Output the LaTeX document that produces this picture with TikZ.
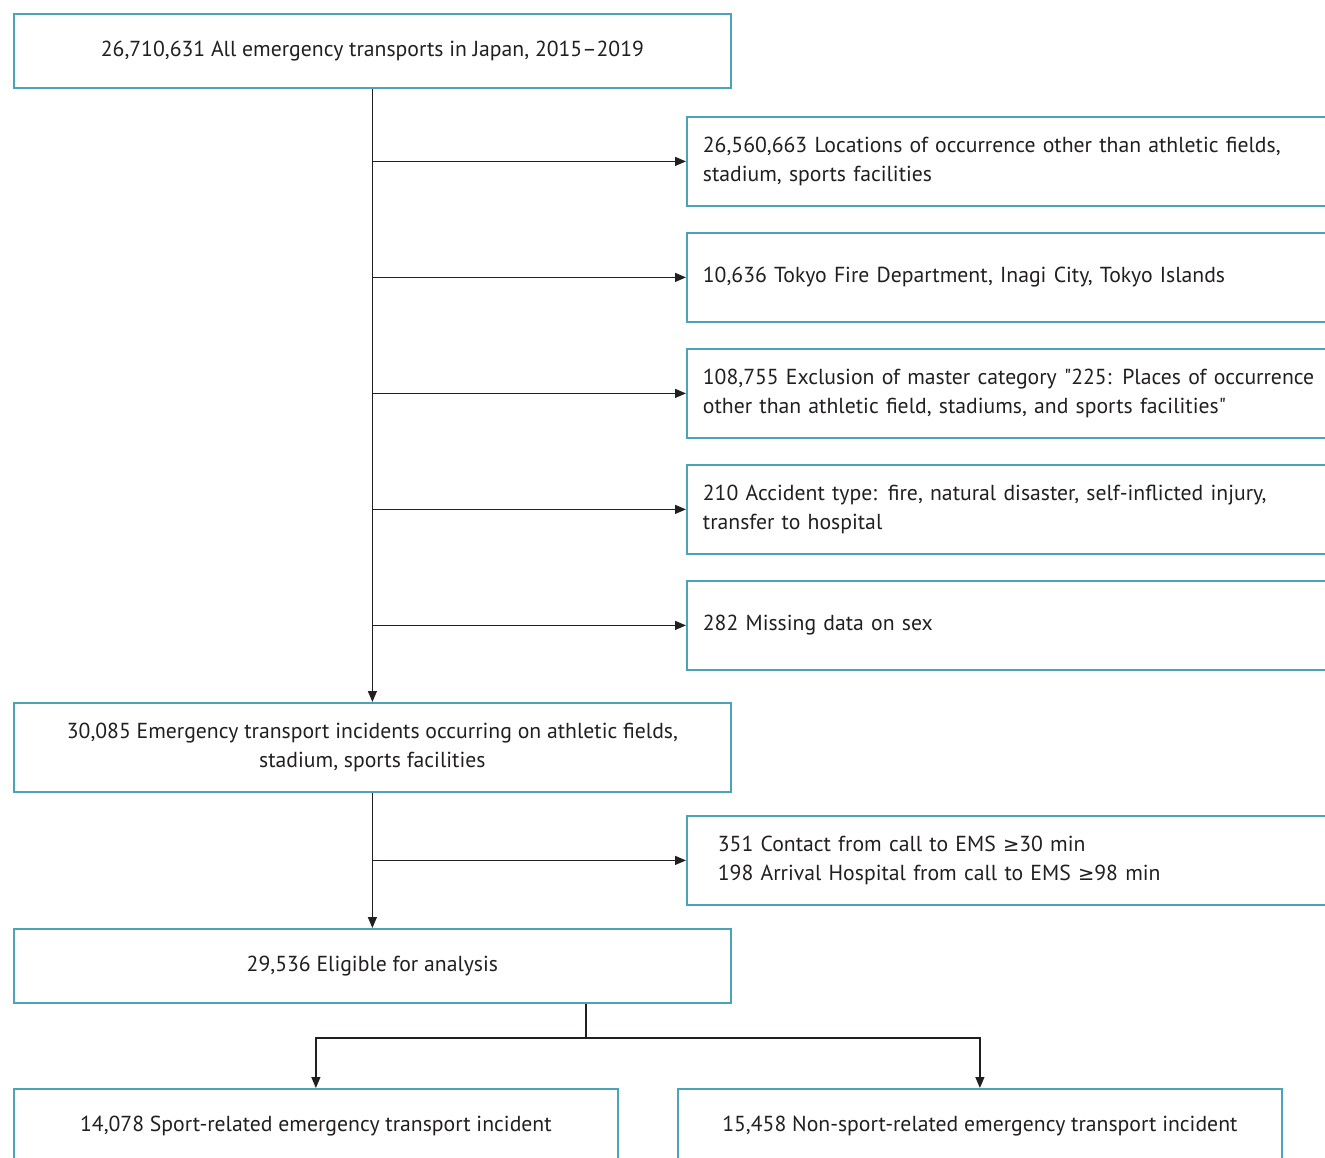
\documentclass[tikz,border=0pt]{standalone}
\usepackage{fontspec}
\setmainfont{PT Sans}[Ligatures=TeXOff]
\newfontfamily\symf{DejaVu Sans}
\usetikzlibrary{arrows.meta}
\definecolor{boxc}{RGB}{74,163,184}
\definecolor{txt}{RGB}{35,31,32}
\newcommand{\geqs}{{\symf\fontsize{19.5}{29}\selectfont ≥}}
\begin{document}
\begin{tikzpicture}[x=1pt,y=-1pt,
  box/.style={draw=boxc, line width=1.8pt, fill=white, text=txt, inner sep=0pt, anchor=north west},
  cbox/.style={box, minimum width=717pt, align=center},
  rbox/.style={box, text width=668pt, inner xsep=16pt, minimum height=89pt, align=left},
  arr/.style={line width=1.3pt, draw=txt, -{Triangle[length=11pt,width=9pt]}},
  ln/.style={line width=1.3pt, draw=txt},
  font=\fontsize{21.7}{29}\selectfont]
\useasboundingbox (0,0) rectangle (1325,1157);
\clip (0,0) rectangle (1325,1157);

\node[cbox, minimum height=74pt] (top) at (13,13) {26,710,631 All emergency transports in Japan, 2015–2019};

\node[rbox] (b1) at (686,116) {26,560,663 Locations of occurrence other than athletic fields,\\stadium, sports facilities};
\node[rbox] (b2) at (686,232) {10,636 Tokyo Fire Department, Inagi City, Tokyo Islands};
\node[rbox] (b3) at (686,348) {108,755 Exclusion of master category "225: Places of occurrence\\other than athletic field, stadiums, and sports facilities"};
\node[rbox] (b4) at (686,464) {210 Accident type: fire, natural disaster, self-inflicted injury,\\transfer to hospital};
\node[rbox] (b5) at (686,580) {282 Missing data on sex};

\node[cbox, minimum height=89pt] (mid) at (13,702) {30,085 Emergency transport incidents occurring on athletic fields,\\stadium, sports facilities};

\node[rbox, inner xsep=31pt, text width=638pt] (b6) at (686,815) {351 Contact from call to EMS \geqs30 min\\198 Arrival Hospital from call to EMS \geqs98 min};

\node[cbox, minimum height=74pt] (elig) at (13,928) {29,536 Eligible for analysis};

\node[box, minimum width=604pt, minimum height=74pt] (s1) at (13,1088) {14,078 Sport-related emergency transport incident};
\node[box, minimum width=604pt, minimum height=74pt] (s2) at (677,1088) {15,458 Non-sport-related emergency transport incident};

\draw[arr] (top.south) -- (mid.north);
\foreach \b in {b1,b2,b3,b4,b5}{
  \draw[arr] (top.south |- \b.west) -- (\b.west);
}
\draw[arr] (mid.south) -- (elig.north);
\draw[arr] (mid.south |- b6.west) -- (b6.west);

\coordinate (sp) at (586,1038);
\draw[ln] (elig.south -| sp) -- (sp);
\draw[arr] (sp) -| (s1.north);
\draw[arr] (sp) -| (s2.north);
\end{tikzpicture}
\end{document}
